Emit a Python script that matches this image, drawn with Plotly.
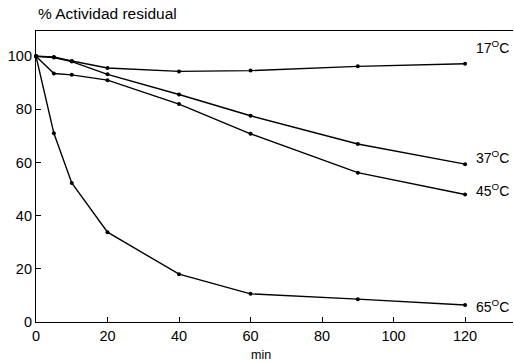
import plotly.graph_objects as go

minutes = [0, 5, 10, 20, 40, 60, 90, 120]
t17 = [100, 99.7, 98.2, 95.6, 94.3, 94.6, 96.2, 97.2]
t37 = [100, 99.5, 98.0, 93.2, 85.6, 77.6, 67.0, 59.4]
t45 = [100, 93.5, 93.0, 91.0, 82.0, 70.8, 56.2, 48.0]
t65 = [100, 71.0, 52.3, 33.8, 18.0, 10.6, 8.6, 6.4]
labels = ["17<sup>O</sup>C", "37<sup>O</sup>C", "45<sup>O</sup>C", "65<sup>O</sup>C"]
label_y = [103.5, 62.0, 49.5, 6.2]

font = "Liberation Sans, Arial, sans-serif"
fig = go.Figure()
for ys in [t17, t37, t45, t65]:
    fig.add_trace(go.Scatter(x=minutes, y=ys, mode="lines+markers",
                             line=dict(color="black", width=1.4),
                             marker=dict(color="black", size=4),
                             showlegend=False, cliponaxis=False))
for lab, ly in zip(labels, label_y):
    fig.add_annotation(x=122.5, y=ly, text=lab, showarrow=False, xanchor="left",
                       font=dict(family=font, size=14, color="black"))

fig.add_annotation(x=0, y=1.0, xref="paper", yref="paper", yshift=7,
                   text="% Actividad residual", showarrow=False, xanchor="left", yanchor="bottom",
                   font=dict(family=font, size=15.5, color="black"))
fig.add_annotation(x=63, y=0, yref="paper", yshift=-24,
                   text="min", showarrow=False, xanchor="center", yanchor="top",
                   font=dict(family=font, size=12.5, color="black"))

fig.update_layout(
    width=514, height=363, plot_bgcolor="white", paper_bgcolor="white",
    margin=dict(l=36, r=1, t=31, b=41),
    font=dict(family=font, size=14.5, color="black"),
    xaxis=dict(range=[0, 133.4], tickvals=[0, 20, 40, 60, 80, 100, 120], automargin=False,
               showline=True, linecolor="black", linewidth=1.2, mirror=True,
               ticks="inside", ticklen=5, tickcolor="black", showgrid=False, zeroline=False),
    yaxis=dict(range=[0, 109.5], tickvals=[0, 20, 40, 60, 80, 100], automargin=False,
               showline=True, linecolor="black", linewidth=1.2,
               ticks="inside", ticklen=5, tickcolor="black", showgrid=False, zeroline=False),
)
fig.write_html("out.html", config={"displayModeBar": False},
               post_script="document.body.style.margin='0';document.body.style.overflow='hidden';")
